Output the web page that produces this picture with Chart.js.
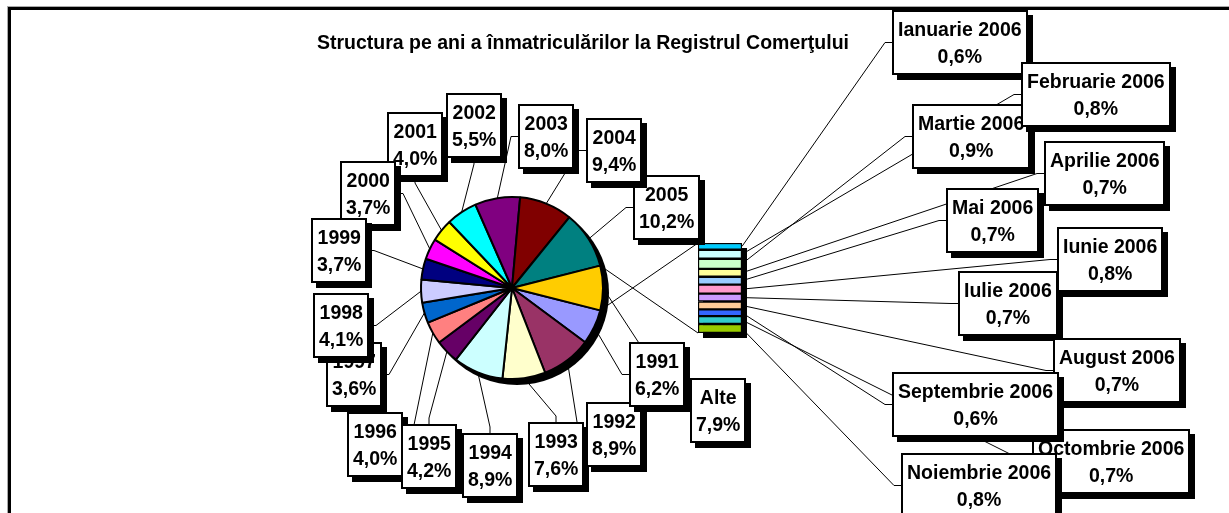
<!DOCTYPE html>
<html>
<head>
<meta charset="utf-8">
<script src="https://cdn.jsdelivr.net/npm/chart.js@4.4.0/dist/chart.umd.min.js"></script>
<style>
    body { margin: 0; background: #fff; }
    #wrap { position: relative; width: 1229px; height: 513px; overflow: hidden; font-family: "Liberation Sans", Arial, sans-serif; }
    #frame { position: absolute; left: 8px; top: 7px; width: 1240px; height: 520px; border-top: 3px solid #000; border-left: 3px solid #000; box-shadow: -1px -1px 0 #aaa; }
    #pie_chart { position: absolute; left: 0; top: 0; }
    #bar_chart { position: absolute; left: 690px; top: 235px; }
    #title { position: absolute; left: 0; top: 30px; width: 1166px; text-align: center; font-weight: bold; font-size: 19.5px; line-height: 24px; }
    .lbl { position: absolute; box-sizing: border-box; height: 65px; padding: 3.5px 4px 0 4px; background: #fff; border: 2px solid #000; box-shadow: 5px 5px 0 #000; font-weight: bold; font-size: 19.5px; line-height: 27px; text-align: center; white-space: nowrap; }
</style>
</head>
<body>
<div id="wrap">
    <div id="frame"></div>
    <canvas id="pie_chart" width="1229" height="513"></canvas>
    <canvas id="bar_chart" width="70" height="110"></canvas>
    <div id="labels"></div>
    <div id="title">Structura pe ani a înmatriculărilor la Registrul Comerţului</div>
</div>
<script>
/* Pie data: years, with the 2006 months grouped in "Alte" */
const pieLabels = ['1991', '1992', '1993', '1994', '1995', '1996', '1997', '1998', '1999', '2000', '2001', '2002', '2003', '2004', '2005', 'Alte'];
const pieValues = [6.2, 8.9, 7.6, 8.9, 4.2, 4.0, 3.6, 4.1, 3.7, 3.7, 4.0, 5.5, 8.0, 9.4, 10.2, 7.9];
const pieColors = ['#9999FF', '#993366', '#FFFFCC', '#CCFFFF', '#660066', '#FF8080', '#0066CC', '#CCCCFF', '#000080', '#FF00FF', '#FFFF00', '#00FFFF', '#800080', '#800000', '#008080', '#FFCC00'];

/* Bar data: the months of 2006 */
const monthLabels = ['Ianuarie 2006', 'Februarie 2006', 'Martie 2006', 'Aprilie 2006', 'Mai 2006', 'Iunie 2006', 'Iulie 2006', 'August 2006', 'Septembrie 2006', 'Octombrie 2006', 'Noiembrie 2006'];
const monthValues = [0.6, 0.8, 0.9, 0.7, 0.7, 0.8, 0.7, 0.7, 0.6, 0.7, 0.8];
const monthColors = ['#00CCFF', '#CCFFFF', '#CCFFCC', '#FFFF99', '#99CCFF', '#FF99CC', '#CC99FF', '#FFCC99', '#3366FF', '#33CCCC', '#99CC00'];

const pieTotal = pieValues.reduce((a, b) => a + b, 0);
const monthTotal = monthValues.reduce((a, b) => a + b, 0);

/* Label boxes: name, left, top, side the leader line goes to (listed in paint order) */
const labelLayout = [
    ['2005', 633, 175, 'left'], ['2004', 586, 118, 'left'], ['2003', 518, 104, 'left'],
    ['2002', 446, 93, 'bottom'], ['2001', 387, 112, 'bottom'], ['2000', 340, 161, 'right'],
    ['1999', 311, 218, 'right'], ['1997', 326, 342, 'right'], ['1998', 313, 293, 'right'],
    ['1996', 347, 412, 'right'], ['1995', 401, 424, 'top'], ['1994', 462, 433, 'top'],
    ['1993', 528, 422, 'top'], ['1992', 586, 402, 'left'], ['1991', 629, 342, 'left'],
    ['Alte', 690, 378, 'left'],
    ['Ianuarie 2006', 892, 10, 'left'], ['Martie 2006', 912, 104, 'left'], ['Februarie 2006', 1021, 62, 'left'],
    ['Aprilie 2006', 1044, 141, 'left'], ['Mai 2006', 946, 188, 'left'], ['Iulie 2006', 958, 271, 'left'],
    ['Iunie 2006', 1057, 227, 'left'], ['August 2006', 1053, 338, 'left'], ['Octombrie 2006', 1032, 429, 'left'],
    ['Septembrie 2006', 892, 372, 'left'], ['Noiembrie 2006', 901, 453, 'left']
];

function fmt(v) {
    return v.toFixed(1).replace('.', ',') + '%';
}

/* Build the label boxes */
const labelsDiv = document.getElementById('labels');
const boxes = {};
labelLayout.forEach(([name, left, top, side]) => {
    let text;
    const pi = pieLabels.indexOf(name);
    if (pi >= 0) {
        text = fmt(pieValues[pi] / pieTotal * 100);
    } else {
        text = fmt(monthValues[monthLabels.indexOf(name)]);
    }
    const el = document.createElement('div');
    el.className = 'lbl';
    el.style.left = left + 'px';
    el.style.top = top + 'px';
    el.innerHTML = `<div>${name}</div><div>${text}</div>`;
    labelsDiv.appendChild(el);
    boxes[name] = { el: el, side: side };
});

function anchorOf(name) {
    const b = boxes[name];
    const el = b.el;
    const l = el.offsetLeft, t = el.offsetTop, w = el.offsetWidth, h = el.offsetHeight;
    if (b.side === 'left') return [[l - 7, t + h / 2], [l, t + h / 2]];
    if (b.side === 'right') return [[l + w + 7, t + h / 2], [l + w, t + h / 2]];
    if (b.side === 'top') return [[l + w / 2, t - 6], [l + w / 2, t]];
    return [[l + w / 2, t + h + 6], [l + w / 2, t + h]];
}

function leader(ctx, x, y, name) {
    const [elbow, end] = anchorOf(name);
    ctx.beginPath();
    ctx.moveTo(x, y);
    ctx.lineTo(elbow[0], elbow[1]);
    ctx.lineTo(end[0], end[1]);
    ctx.stroke();
}

/* Stacked bar with the months */
const barCanvas = document.getElementById('bar_chart');

const barShadow = {
    id: 'barShadow',
    beforeDatasetsDraw(chart) {
        const a = chart.chartArea;
        const ctx = chart.ctx;
        ctx.save();
        ctx.fillStyle = '#000';
        ctx.fillRect(a.left + 5, a.top + 5, a.right - a.left, a.bottom - a.top);
        ctx.restore();
    }
};

const barChart = new Chart(barCanvas, {
    type: 'bar',
    data: {
        labels: ['2006'],
        datasets: monthLabels.map((m, i) => ({
            label: m,
            data: [monthValues[i]],
            backgroundColor: monthColors[i],
            borderColor: '#000',
            borderWidth: 1.5,
            borderSkipped: false,
            barPercentage: 1,
            categoryPercentage: 1
        }))
    },
    options: {
        responsive: false,
        animation: false,
        layout: { padding: { left: 8, right: 18, top: 8, bottom: 12 } },
        scales: {
            x: { display: false, stacked: true },
            y: { display: false, stacked: true, reverse: true, min: 0, max: monthTotal }
        },
        plugins: { legend: { display: false }, tooltip: { enabled: false } }
    },
    plugins: [barShadow]
});

/* Pie with shadow, leader lines and connectors to the bar */
const pieShadow = {
    id: 'pieShadow',
    beforeDatasetsDraw(chart) {
        const arc = chart.getDatasetMeta(0).data[0];
        const ctx = chart.ctx;
        ctx.save();
        ctx.fillStyle = '#000';
        ctx.beginPath();
        ctx.arc(arc.x + 5, arc.y + 5, arc.outerRadius + 1, 0, Math.PI * 2);
        ctx.fill();
        ctx.restore();
    }
};

const leaderLines = {
    id: 'leaderLines',
    afterDraw(chart) {
        const ctx = chart.ctx;
        const arcs = chart.getDatasetMeta(0).data;
        ctx.save();
        ctx.strokeStyle = '#000';
        ctx.lineWidth = 1;

        arcs.forEach((arc, i) => {
            const mid = (arc.startAngle + arc.endAngle) / 2;
            leader(ctx, arc.x + Math.cos(mid) * arc.outerRadius, arc.y + Math.sin(mid) * arc.outerRadius, pieLabels[i]);
        });

        /* connectors from the "Alte" slice to the bar */
        const other = arcs[arcs.length - 1];
        const ox = barCanvas.offsetLeft, oy = barCanvas.offsetTop;
        const area = barChart.chartArea;
        ctx.beginPath();
        ctx.moveTo(other.x + Math.cos(other.endAngle) * other.outerRadius, other.y + Math.sin(other.endAngle) * other.outerRadius);
        ctx.lineTo(ox + area.left, oy + area.top);
        ctx.moveTo(other.x + Math.cos(other.startAngle) * other.outerRadius, other.y + Math.sin(other.startAngle) * other.outerRadius);
        ctx.lineTo(ox + area.left, oy + area.bottom);
        ctx.stroke();

        /* leader lines from the bar segments */
        monthLabels.forEach((m, i) => {
            const bar = barChart.getDatasetMeta(i).data[0];
            leader(ctx, ox + bar.x + bar.width / 2, oy + (bar.y + bar.base) / 2, m);
        });
        ctx.restore();
    }
};

const otherDeg = pieValues[pieValues.length - 1] / pieTotal * 360;

const pieChart = new Chart(document.getElementById('pie_chart'), {
    type: 'pie',
    data: {
        labels: pieLabels,
        datasets: [{
            data: pieValues,
            backgroundColor: pieColors,
            borderColor: '#000',
            borderWidth: 2
        }]
    },
    options: {
        responsive: false,
        animation: false,
        rotation: 90 + otherDeg / 2,
        radius: 91,
        layout: { padding: { left: 0, right: 205, top: 63, bottom: 0 } },
        plugins: { legend: { display: false }, tooltip: { enabled: false } }
    },
    plugins: [pieShadow, leaderLines]
});
</script>
</body>
</html>
